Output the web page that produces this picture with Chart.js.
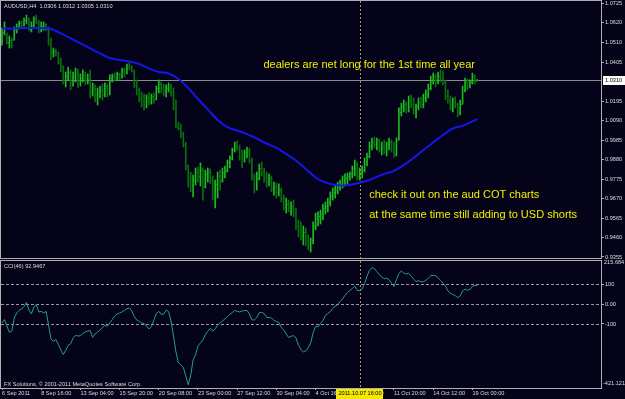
<!DOCTYPE html>
<html lang="en">
<head>
<meta charset="UTF-8">
<title>AUDUSD,H4</title>
<script src="https://cdn.jsdelivr.net/npm/chart.js"></script>
<style>
  body { margin: 0; background: #04031a; width: 625px; height: 399px; overflow: hidden; position: relative; }
  canvas { position: absolute; left: 0; }
  #priceChart { top: 0; }
  #cciChart { top: 256px; }
</style>
</head>
<body>
<canvas id="priceChart" width="625" height="260"></canvas>
<canvas id="cciChart" width="625" height="143"></canvas>
<script>
// AUDUSD H4 bars, 6 Sep 2011 00:00 .. 19 Oct 2011 08:00 (bar index = position)
const opens = [
  1.0525,1.0569,1.0558,1.0515,1.0525,1.0525,1.0585,1.0596,1.0617,1.0606,
  1.0633,1.0644,1.0585,1.0606,1.0639,1.0623,1.0579,1.0601,1.0612,1.0585,
  1.0525,1.0461,1.0466,1.0461,1.0407,1.0385,1.0310,1.0331,1.0353,1.0288,
  1.0331,1.0342,1.0310,1.0320,1.0337,1.0310,1.0320,1.0245,1.0267,1.0223,
  1.0245,1.0256,1.0229,1.0277,1.0234,1.0320,1.0331,1.0320,1.0342,1.0331,
  1.0364,1.0347,1.0385,1.0374,1.0353,1.0283,1.0256,1.0213,1.0202,1.0169,
  1.0213,1.0191,1.0223,1.0207,1.0267,1.0288,1.0267,1.0256,1.0267,1.0277,
  1.0245,1.0159,1.0062,1.0051,1.0018,0.9964,0.9846,0.9781,0.9749,0.9770,
  0.9813,0.9792,0.9824,0.9738,0.9803,0.9813,0.9770,0.9695,0.9749,0.9792,
  0.9770,0.9813,0.9824,0.9867,0.9889,0.9932,0.9954,0.9943,0.9900,0.9889,
  0.9921,0.9932,0.9878,0.9792,0.9738,0.9781,0.9835,0.9813,0.9781,0.9759,
  0.9781,0.9727,0.9738,0.9706,0.9716,0.9673,0.9630,0.9641,0.9619,0.9630,
  0.9598,0.9522,0.9501,0.9468,0.9490,0.9447,0.9425,0.9447,0.9522,0.9565,
  0.9576,0.9587,0.9619,0.9630,0.9652,0.9684,0.9706,0.9716,0.9738,0.9749,
  0.9770,0.9781,0.9792,0.9803,0.9835,0.9857,0.9792,0.9813,0.9824,0.9867,
  0.9900,0.9954,0.9975,0.9964,0.9986,0.9943,0.9954,0.9932,0.9964,0.9975,
  0.9943,0.9911,0.9986,1.0137,1.0169,1.0180,1.0148,1.0202,1.0180,1.0148,
  1.0169,1.0191,1.0180,1.0213,1.0234,1.0267,1.0310,1.0331,1.0299,1.0331,
  1.0320,1.0299,1.0223,1.0202,1.0169,1.0191,1.0180,1.0137,1.0180,1.0256,
  1.0299,1.0277,1.0299,1.0331,1.0306
];
const highs = [
  1.0590,1.0623,1.0563,1.0547,1.0536,1.0596,1.0612,1.0628,1.0628,1.0644,
  1.0660,1.0644,1.0623,1.0650,1.0660,1.0633,1.0623,1.0623,1.0612,1.0596,
  1.0536,1.0482,1.0477,1.0461,1.0428,1.0385,1.0353,1.0380,1.0364,1.0353,
  1.0374,1.0369,1.0342,1.0364,1.0353,1.0342,1.0364,1.0294,1.0283,1.0267,
  1.0277,1.0288,1.0294,1.0288,1.0337,1.0342,1.0347,1.0353,1.0347,1.0374,
  1.0374,1.0396,1.0401,1.0385,1.0364,1.0310,1.0267,1.0245,1.0234,1.0229,
  1.0240,1.0234,1.0240,1.0277,1.0310,1.0299,1.0288,1.0283,1.0294,1.0288,
  1.0267,1.0202,1.0083,1.0072,1.0029,0.9975,0.9851,0.9813,0.9797,0.9835,
  0.9840,0.9862,0.9835,0.9824,0.9835,0.9830,0.9792,0.9770,0.9813,0.9824,
  0.9835,0.9846,0.9878,0.9900,0.9943,0.9975,0.9981,0.9959,0.9932,0.9932,
  0.9948,0.9943,0.9889,0.9803,0.9813,0.9857,0.9867,0.9835,0.9813,0.9803,
  0.9792,0.9759,0.9754,0.9749,0.9727,0.9689,0.9673,0.9662,0.9652,0.9662,
  0.9619,0.9555,0.9544,0.9522,0.9511,0.9474,0.9457,0.9544,0.9592,0.9598,
  0.9608,0.9641,0.9652,0.9673,0.9706,0.9727,0.9738,0.9759,0.9770,0.9792,
  0.9803,0.9808,0.9813,0.9846,0.9878,0.9867,0.9835,0.9846,0.9889,0.9916,
  0.9975,0.9997,1.0002,0.9997,0.9991,0.9975,0.9986,0.9975,0.9997,0.9986,
  0.9975,0.9997,1.0159,1.0185,1.0202,1.0191,1.0223,1.0229,1.0213,1.0180,
  1.0213,1.0218,1.0234,1.0256,1.0288,1.0331,1.0347,1.0342,1.0353,1.0364,
  1.0358,1.0310,1.0256,1.0223,1.0213,1.0218,1.0185,1.0202,1.0277,1.0320,
  1.0315,1.0310,1.0347,1.0337,1.0312
];
const lows = [
  1.0498,1.0552,1.0504,1.0482,1.0482,1.0525,1.0563,1.0585,1.0590,1.0601,
  1.0612,1.0574,1.0569,1.0596,1.0612,1.0563,1.0569,1.0579,1.0574,1.0498,
  1.0418,1.0434,1.0439,1.0396,1.0353,1.0288,1.0272,1.0310,1.0256,1.0277,
  1.0299,1.0267,1.0277,1.0299,1.0283,1.0288,1.0213,1.0223,1.0191,1.0175,
  1.0213,1.0202,1.0218,1.0218,1.0229,1.0299,1.0304,1.0310,1.0310,1.0320,
  1.0326,1.0342,1.0364,1.0353,1.0267,1.0229,1.0191,1.0164,1.0148,1.0159,
  1.0175,1.0180,1.0185,1.0202,1.0240,1.0240,1.0223,1.0218,1.0245,1.0223,
  1.0148,1.0051,1.0040,0.9997,0.9948,0.9824,0.9732,0.9706,0.9679,0.9743,
  0.9759,0.9738,0.9662,0.9727,0.9759,0.9749,0.9662,0.9619,0.9673,0.9716,
  0.9759,0.9781,0.9813,0.9835,0.9878,0.9921,0.9932,0.9878,0.9835,0.9867,
  0.9889,0.9862,0.9770,0.9700,0.9716,0.9770,0.9792,0.9759,0.9732,0.9738,
  0.9706,0.9689,0.9673,0.9684,0.9652,0.9608,0.9592,0.9598,0.9581,0.9571,
  0.9501,0.9463,0.9447,0.9420,0.9414,0.9393,0.9382,0.9425,0.9501,0.9522,
  0.9533,0.9555,0.9587,0.9598,0.9630,0.9662,0.9673,0.9695,0.9716,0.9727,
  0.9738,0.9749,0.9770,0.9781,0.9792,0.9770,0.9770,0.9781,0.9813,0.9846,
  0.9889,0.9932,0.9943,0.9932,0.9921,0.9905,0.9911,0.9900,0.9932,0.9921,
  0.9894,0.9900,0.9986,1.0116,1.0137,1.0132,1.0137,1.0159,1.0126,1.0105,
  1.0148,1.0159,1.0159,1.0191,1.0213,1.0256,1.0288,1.0272,1.0288,1.0299,
  1.0283,1.0202,1.0185,1.0148,1.0137,1.0159,1.0110,1.0121,1.0180,1.0245,
  1.0256,1.0267,1.0288,1.0288,1.0305
];
const closes = [
  1.0569,1.0601,1.0515,1.0525,1.0498,1.0585,1.0596,1.0617,1.0606,1.0633,
  1.0644,1.0585,1.0606,1.0639,1.0623,1.0579,1.0601,1.0612,1.0585,1.0525,
  1.0461,1.0466,1.0461,1.0407,1.0385,1.0310,1.0331,1.0353,1.0288,1.0331,
  1.0342,1.0310,1.0320,1.0337,1.0310,1.0320,1.0245,1.0267,1.0223,1.0245,
  1.0256,1.0229,1.0277,1.0234,1.0320,1.0331,1.0320,1.0342,1.0331,1.0364,
  1.0347,1.0385,1.0374,1.0364,1.0283,1.0256,1.0213,1.0202,1.0169,1.0213,
  1.0191,1.0223,1.0207,1.0267,1.0288,1.0267,1.0256,1.0267,1.0277,1.0245,
  1.0159,1.0062,1.0051,1.0018,0.9964,0.9846,0.9781,0.9749,0.9770,0.9813,
  0.9792,0.9824,0.9716,0.9803,0.9813,0.9770,0.9695,0.9749,0.9792,0.9759,
  0.9813,0.9824,0.9867,0.9889,0.9932,0.9954,0.9943,0.9900,0.9889,0.9921,
  0.9932,0.9878,0.9792,0.9738,0.9781,0.9835,0.9813,0.9781,0.9759,0.9781,
  0.9727,0.9738,0.9706,0.9716,0.9673,0.9630,0.9641,0.9619,0.9630,0.9598,
  0.9522,0.9501,0.9468,0.9490,0.9447,0.9425,0.9447,0.9522,0.9565,0.9576,
  0.9587,0.9619,0.9630,0.9652,0.9684,0.9706,0.9716,0.9738,0.9749,0.9770,
  0.9781,0.9792,0.9803,0.9835,0.9857,0.9792,0.9813,0.9824,0.9867,0.9900,
  0.9954,0.9975,0.9964,0.9986,0.9943,0.9954,0.9932,0.9964,0.9975,0.9943,
  0.9911,0.9986,1.0137,1.0169,1.0180,1.0148,1.0202,1.0180,1.0148,1.0169,
  1.0191,1.0180,1.0213,1.0234,1.0267,1.0310,1.0331,1.0299,1.0331,1.0320,
  1.0299,1.0223,1.0202,1.0169,1.0191,1.0180,1.0137,1.0180,1.0256,1.0299,
  1.0277,1.0299,1.0331,1.0310,1.0310
];

// blue moving average, read every 4th bar
const maBars = [0,4,8,12,16,20,24,28,32,36,40,44,48,52,56,60,64,68,72,76,80,84,88,92,96,
  100,104,108,112,116,120,124,128,132,136,140,144,148,152,156,160,164,168,172,176,180,184,188,192,194];
const maValues = [1.0587,1.0587,1.0590,1.0590,1.0590,1.0585,1.0561,1.0534,1.0507,1.0480,
  1.0453,1.0428,1.0418,1.0409,1.0396,1.0372,1.0353,1.0345,1.0315,1.0267,
  1.0207,1.0151,1.0094,1.0056,1.0037,1.0018,0.9994,0.9967,0.9943,0.9911,
  0.9875,0.9830,0.9784,0.9757,0.9743,0.9741,0.9749,0.9762,0.9781,0.9803,
  0.9819,0.9851,0.9889,0.9932,0.9973,1.0013,1.0048,1.0062,1.0086,1.0099];

// CCI(46), one value per bar
const cciValues = [
  -95,-78,-110,-142,-135,-70,-45,-32,-25,-12,
  8,-30,-50,-15,-2,-40,-37,-45,-37,-105,
  -175,-187,-178,-203,-230,-253,-233,-207,-200,-172,
  -158,-160,-160,-147,-140,-136,-133,-167,-150,-142,
  -130,-118,-107,-112,-95,-78,-60,-50,-45,-40,
  -32,-23,-20,-35,-62,-80,-87,-96,-98,-112,
  -125,-113,-80,-47,-37,-52,-50,-30,-38,-85,
  -160,-240,-295,-305,-317,-360,-405,-360,-280,-255,
  -210,-195,-180,-155,-137,-122,-137,-125,-107,-95,
  -85,-75,-63,-52,-43,-33,-36,-40,-35,-33,
  -32,-50,-80,-80,-68,-43,-42,-48,-67,-68,
  -70,-82,-88,-92,-118,-130,-150,-168,-162,-158,
  -170,-205,-228,-240,-235,-218,-195,-145,-112,-115,
  -98,-82,-58,-48,-38,-22,-10,-4,12,26,
  43,58,68,78,90,68,67,75,103,140,
  170,182,178,162,147,135,127,130,122,105,
  88,122,152,166,155,150,154,140,125,112,
  117,112,112,118,130,142,144,142,131,119,
  105,90,66,54,48,42,32,40,65,75,
  68,74,88,92,92.9467
];

const priceTicks = [1.0725,1.0620,1.0510,1.0405,1.0195,1.0090,0.9985,0.9880,0.9775,0.9670,0.9565,0.9460,0.9355];
const cciLevels = [100, 0, -100];
const timeBars = [0,16,32,48,64,80,96,112,128,144,160,176,192];
const timeLabels = ["6 Sep 2011","8 Sep 16:00","13 Sep 04:00","15 Sep 20:00","20 Sep 08:00","23 Sep 00:00",
  "27 Sep 12:00","30 Sep 04:00","4 Oct 16:00","7 Oct 08:00","11 Oct 20:00","14 Oct 12:00","19 Oct 00:00"];
const crossBar = 146;
const crossLabel = "2011.10.07 16:00";

const noteTexts = ["dealers are net long for the 1st time all year",
  "check it out on the aud COT charts",
  "at the same time still adding to USD shorts"];
const noteBars = [106.7, 149.9, 149.9];
const notePrices = [1.0372, 0.9672, 0.9567];

const xMin = -0.41, xMax = 244.5;
const FRAME = '#b0b0b0';
const TEXT = '#dcdcdc';
const FAMILY = 'Arial, "Liberation Sans", sans-serif';
const SMALL = '5.6px ' + FAMILY;
const upColor = '#1cbc1c', downColor = '#0a700a';
const barColors = closes.map((c, i) => (c >= opens[i] ? upColor : downColor));

Chart.defaults.font.family = FAMILY;

function fixedWidth(w) {
  return s => { s.width = w; s.paddingTop = 0; s.paddingBottom = 0; };
}

const priceDecor = {
  id: 'priceDecor',
  beforeDatasetsDraw(chart) {
    const { ctx, chartArea: a, scales: { x, y } } = chart;
    ctx.save();
    const yb = Math.round(y.getPixelForValue(closes[closes.length - 1])) + 0.5;
    ctx.strokeStyle = '#8a8a8a';
    ctx.lineWidth = 1;
    ctx.beginPath(); ctx.moveTo(a.left, yb); ctx.lineTo(a.right, yb); ctx.stroke();
    const xc = Math.round(x.getPixelForValue(crossBar)) + 0.5;
    ctx.strokeStyle = '#b09a48';
    ctx.setLineDash([2, 2]);
    ctx.beginPath(); ctx.moveTo(xc, a.top); ctx.lineTo(xc, a.bottom); ctx.stroke();
    ctx.restore();
  },
  afterDatasetDraw(chart, args) {
    if (args.index !== 0) return;
    const { ctx, scales: { x, y } } = chart;
    ctx.save();
    ctx.globalAlpha = 0.6;
    for (let i = 0; i < closes.length; i++) {
      const px = Math.round(x.getPixelForValue(i));
      ctx.fillStyle = barColors[i];
      ctx.fillRect(px - 1, Math.round(y.getPixelForValue(opens[i])), 1, 1);
      ctx.fillRect(px + 1, Math.round(y.getPixelForValue(closes[i])), 1, 1);
    }
    ctx.restore();
  },
  afterDraw(chart) {
    const { ctx, chartArea: a, scales: { x, y } } = chart;
    const n = closes.length - 1;
    ctx.save();
    ctx.strokeStyle = FRAME;
    ctx.lineWidth = 1;
    ctx.strokeRect(a.left - 0.5, a.top - 0.5, a.width + 1, a.height + 1);

    // current price box
    const yb = Math.round(y.getPixelForValue(closes[n]));
    ctx.fillStyle = '#ffffff';
    ctx.fillRect(a.right + 2, yb - 4, 22, 9);
    ctx.fillStyle = '#000000';
    ctx.font = SMALL;
    ctx.textBaseline = 'middle';
    ctx.fillText(closes[n].toFixed(4), a.right + 4, yb + 0.5);

    // symbol line
    ctx.fillStyle = TEXT;
    ctx.fillText('AUDUSD,H4  ' + [opens[n], highs[n], lows[n], closes[n]].map(v => v.toFixed(4)).join(' '),
      4, a.top + 5.3);

    // text notes
    ctx.fillStyle = '#f0f000';
    ctx.font = '11px ' + FAMILY;
    ctx.textBaseline = 'alphabetic';
    noteTexts.forEach((t, k) => {
      ctx.fillText(t, x.getPixelForValue(noteBars[k]), y.getPixelForValue(notePrices[k]));
    });
    ctx.restore();
  }
};

new Chart(document.getElementById('priceChart'), {
  type: 'bar',
  data: {
    datasets: [
      {
        type: 'bar',
        data: highs.map((h, i) => ({ x: i, y: [lows[i], h] })),
        backgroundColor: barColors,
        borderWidth: 0,
        barThickness: 1,
        order: 2
      },
      {
        type: 'line',
        data: maBars.map((b, k) => ({ x: b, y: maValues[k] })),
        borderColor: '#1616e8',
        borderWidth: 2,
        pointRadius: 0,
        tension: 0.35,
        order: 1
      }
    ]
  },
  options: {
    responsive: false,
    animation: false,
    events: [],
    layout: { padding: { left: 1, top: 1, right: 0, bottom: 2 } },
    plugins: { legend: { display: false }, tooltip: { enabled: false } },
    scales: {
      x: { type: 'linear', display: false, min: xMin, max: xMax, offset: false },
      y: {
        position: 'right',
        min: 0.93495,
        max: 1.07358,
        afterFit: fixedWidth(24),
        afterBuildTicks: s => { s.ticks = priceTicks.map(v => ({ value: v })); },
        ticks: {
          autoSkip: false,
          color: TEXT,
          padding: 1,
          font: { size: 5.6 },
          callback: v => v.toFixed(4)
        },
        grid: { drawOnChartArea: false, tickLength: 3, color: FRAME },
        border: { display: false }
      }
    }
  },
  plugins: [priceDecor]
});

const cciDecor = {
  id: 'cciDecor',
  beforeDatasetsDraw(chart) {
    const { ctx, chartArea: a, scales: { x, y } } = chart;
    ctx.save();
    ctx.strokeStyle = '#9a9a9a';
    ctx.lineWidth = 1;
    ctx.setLineDash([3, 2]);
    cciLevels.forEach(v => {
      const py = Math.round(y.getPixelForValue(v)) + 0.5;
      ctx.beginPath(); ctx.moveTo(a.left, py); ctx.lineTo(a.right, py); ctx.stroke();
    });
    const xc = Math.round(x.getPixelForValue(crossBar)) + 0.5;
    ctx.strokeStyle = '#b09a48';
    ctx.setLineDash([2, 2]);
    ctx.beginPath(); ctx.moveTo(xc, a.top); ctx.lineTo(xc, a.bottom); ctx.stroke();
    ctx.restore();
  },
  afterDraw(chart) {
    const { ctx, chartArea: a, scales: { x, y } } = chart;
    ctx.save();
    ctx.strokeStyle = FRAME;
    ctx.lineWidth = 1;
    ctx.strokeRect(a.left - 0.5, a.top - 0.5, a.width + 1, a.height + 1);

    ctx.font = SMALL;
    ctx.fillStyle = TEXT;
    ctx.textBaseline = 'middle';
    ctx.fillText(y.max.toFixed(3), a.right + 3, a.top + 1.5);
    ctx.fillText(y.min.toFixed(3), a.right + 2, a.bottom - 4.5);
    ctx.fillText('CCI(46) ' + cciValues[cciValues.length - 1], 4, a.top + 5.3);
    ctx.fillText('FX Solutions, \u00a9 2001-2011 MetaQuotes Software Corp.', 4, a.bottom - 4);

    // crosshair time label
    const xc = Math.round(x.getPixelForValue(crossBar));
    const w = ctx.measureText(crossLabel).width + 4;
    ctx.fillStyle = '#f4e800';
    ctx.fillRect(Math.round(xc - w / 2), a.bottom + 1, Math.round(w), chart.height - a.bottom - 1);
    ctx.fillStyle = '#000000';
    ctx.textAlign = 'center';
    ctx.fillText(crossLabel, xc, a.bottom + 5.5);
    ctx.restore();
  }
};

new Chart(document.getElementById('cciChart'), {
  type: 'line',
  data: {
    datasets: [{
      data: cciValues.map((v, i) => ({ x: i, y: v })),
      borderColor: '#22a088',
      borderWidth: 1,
      pointRadius: 0,
      tension: 0
    }]
  },
  options: {
    responsive: false,
    animation: false,
    events: [],
    layout: { padding: { left: 1, top: 5, right: 0, bottom: 0 } },
    plugins: { legend: { display: false }, tooltip: { enabled: false } },
    scales: {
      x: {
        type: 'linear',
        min: xMin,
        max: xMax,
        offset: false,
        afterFit: s => { s.height = 11; s.paddingLeft = 0; s.paddingRight = 0; },
        afterBuildTicks: s => { s.ticks = timeBars.map(v => ({ value: v })); },
        ticks: {
          autoSkip: false,
          maxRotation: 0,
          minRotation: 0,
          align: 'start',
          padding: 0,
          color: TEXT,
          font: { size: 5.6 },
          callback: (v, i) => timeLabels[i]
        },
        grid: { drawOnChartArea: false, tickLength: 2, color: FRAME },
        border: { display: false }
      },
      y: {
        position: 'right',
        min: -421.121,
        max: 215.684,
        afterFit: fixedWidth(24),
        afterBuildTicks: s => { s.ticks = cciLevels.map(v => ({ value: v })); },
        ticks: {
          autoSkip: false,
          color: TEXT,
          padding: 1,
          font: { size: 5.6 },
          callback: v => (v === 0 ? '0.00' : String(v))
        },
        grid: { drawOnChartArea: false, tickLength: 3, color: FRAME },
        border: { display: false }
      }
    }
  },
  plugins: [cciDecor]
});
</script>
</body>
</html>
